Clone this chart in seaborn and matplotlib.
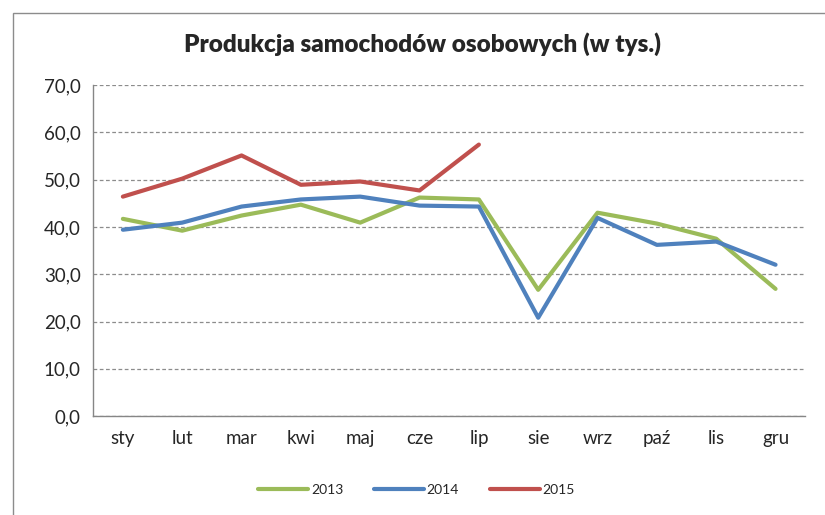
import seaborn as sns
import matplotlib.pyplot as plt
import matplotlib.ticker as mticker
import matplotlib.patches as mpatches
import pandas as pd

sns.set_style('white')
plt.rcParams['font.family'] = ['Lato', 'DejaVu Sans']

months = ['sty', 'lut', 'mar', 'kwi', 'maj', 'cze', 'lip', 'sie', 'wrz', 'paź', 'lis', 'gru']
y2013 = [41.7, 39.2, 42.4, 44.7, 40.9, 46.2, 45.8, 26.7, 43.0, 40.7, 37.5, 26.9]
y2014 = [39.4, 40.9, 44.3, 45.8, 46.4, 44.5, 44.3, 20.8, 41.9, 36.2, 36.9, 32.0]
y2015 = [46.4, 50.2, 55.1, 48.9, 49.6, 47.7, 57.4]

rows = []
for year, vals in [('2013', y2013), ('2014', y2014), ('2015', y2015)]:
    for i, v in enumerate(vals):
        rows.append({'miesiac': i, 'rok': year, 'wartosc': v})
data = pd.DataFrame(rows)

palette = {'2013': '#9BBB59', '2014': '#4F81BD', '2015': '#C0504D'}

fig = plt.figure(figsize=(8.25, 5.15), dpi=100)
ax = fig.add_axes([0.113, 0.192, 0.863, 0.643])

sns.lineplot(data=data, x='miesiac', y='wartosc', hue='rok', palette=palette,
             linewidth=3.0, ax=ax, legend=True, solid_capstyle='round',
             solid_joinstyle='round')

ax.set_xlim(-0.5, 11.5)
ax.set_ylim(0, 70)
ax.set_xticks(range(12))
ax.set_xticklabels(months)
ax.set_xticks([i - 0.5 for i in range(13)], minor=True)
ax.set_yticks(range(0, 71, 10))
ax.yaxis.set_major_formatter(mticker.FuncFormatter(lambda v, p: f'{v:.1f}'.replace('.', ',')))
ax.tick_params(axis='x', which='major', length=0, pad=10, labelsize=13.5)
ax.tick_params(axis='x', which='minor', length=5, color='#868686', direction='out')
ax.tick_params(axis='y', length=5, color='#868686', direction='out', labelsize=13.5, pad=4)
ax.set_xlabel('')
ax.set_ylabel('')

ax.grid(axis='y', linestyle=(0, (3, 2)), color='#8C8C8C', linewidth=0.9)
ax.set_axisbelow(True)
for s in ['top', 'right']:
    ax.spines[s].set_visible(False)
for s in ['left', 'bottom']:
    ax.spines[s].set_color('#868686')
    ax.spines[s].set_linewidth(1.0)

fig.suptitle('Produkcja samochodów osobowych (w tys.)', x=0.512, y=0.938,
             fontsize=17.5, fontweight='heavy')

handles, labels = ax.get_legend_handles_labels()
for h in handles:
    h.set_solid_capstyle('round')
ax.legend(handles, labels, loc='center', bbox_to_anchor=(0.505, 0.048),
          bbox_transform=fig.transFigure, ncol=3, frameon=False, fontsize=10,
          handlelength=3.6, handletextpad=0.2, columnspacing=2.2)

fig.patches.append(mpatches.Rectangle((13 / 825, -0.01), 1.0, 1 - 13 / 515 + 0.01,
                                      transform=fig.transFigure, fill=False,
                                      edgecolor='#8C8C8C', linewidth=1.0))

fig.savefig('out.png', dpi=100)
